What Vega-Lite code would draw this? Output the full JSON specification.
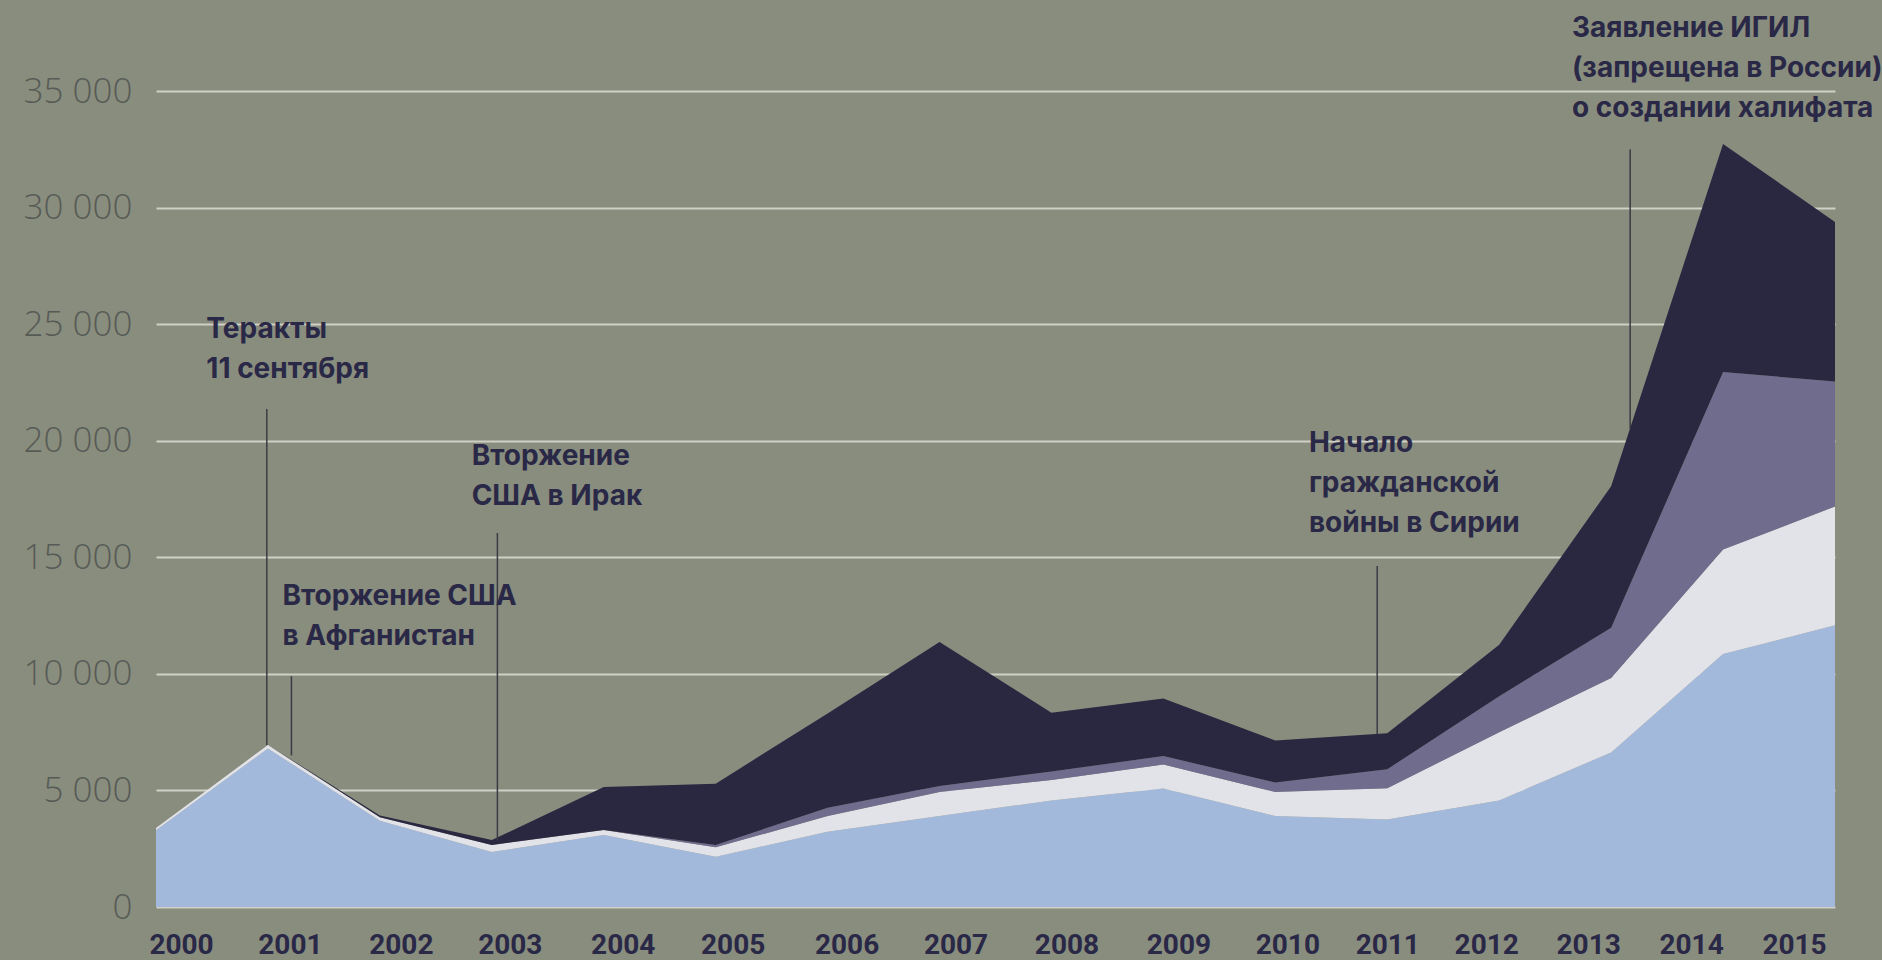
{
  "$schema": "https://vega.github.io/schema/vega-lite/v6.json",
  "autosize": {"type": "none"},
  "width": 1679,
  "height": 816,
  "padding": {"left": 156, "top": 91, "right": 47, "bottom": 53},
  "background": "#898d7e",
  "config": {"view": {"stroke": null}},
  "datasets": {
    "areas": [
      {"year": 2000, "series": "s1", "deaths": 3290}, {"year": 2000, "series": "s2", "deaths": 100}, {"year": 2000, "series": "s3", "deaths": 0}, {"year": 2000, "series": "s4", "deaths": 0},
      {"year": 2001, "series": "s1", "deaths": 6800}, {"year": 2001, "series": "s2", "deaths": 150}, {"year": 2001, "series": "s3", "deaths": 0}, {"year": 2001, "series": "s4", "deaths": 0},
      {"year": 2002, "series": "s1", "deaths": 3700}, {"year": 2002, "series": "s2", "deaths": 150}, {"year": 2002, "series": "s3", "deaths": 0}, {"year": 2002, "series": "s4", "deaths": 80},
      {"year": 2003, "series": "s1", "deaths": 2360}, {"year": 2003, "series": "s2", "deaths": 300}, {"year": 2003, "series": "s3", "deaths": 0}, {"year": 2003, "series": "s4", "deaths": 210},
      {"year": 2004, "series": "s1", "deaths": 3090}, {"year": 2004, "series": "s2", "deaths": 210}, {"year": 2004, "series": "s3", "deaths": 0}, {"year": 2004, "series": "s4", "deaths": 1850},
      {"year": 2005, "series": "s1", "deaths": 2150}, {"year": 2005, "series": "s2", "deaths": 410}, {"year": 2005, "series": "s3", "deaths": 100}, {"year": 2005, "series": "s4", "deaths": 2630},
      {"year": 2006, "series": "s1", "deaths": 3230}, {"year": 2006, "series": "s2", "deaths": 670}, {"year": 2006, "series": "s3", "deaths": 360}, {"year": 2006, "series": "s4", "deaths": 4040},
      {"year": 2007, "series": "s1", "deaths": 3900}, {"year": 2007, "series": "s2", "deaths": 1030}, {"year": 2007, "series": "s3", "deaths": 260}, {"year": 2007, "series": "s4", "deaths": 6180},
      {"year": 2008, "series": "s1", "deaths": 4570}, {"year": 2008, "series": "s2", "deaths": 880}, {"year": 2008, "series": "s3", "deaths": 360}, {"year": 2008, "series": "s4", "deaths": 2520},
      {"year": 2009, "series": "s1", "deaths": 5085}, {"year": 2009, "series": "s2", "deaths": 1030}, {"year": 2009, "series": "s3", "deaths": 360}, {"year": 2009, "series": "s4", "deaths": 2470},
      {"year": 2010, "series": "s1", "deaths": 3900}, {"year": 2010, "series": "s2", "deaths": 1030}, {"year": 2010, "series": "s3", "deaths": 410}, {"year": 2010, "series": "s4", "deaths": 1800},
      {"year": 2011, "series": "s1", "deaths": 3750}, {"year": 2011, "series": "s2", "deaths": 1340}, {"year": 2011, "series": "s3", "deaths": 820}, {"year": 2011, "series": "s4", "deaths": 1540},
      {"year": 2012, "series": "s1", "deaths": 4570}, {"year": 2012, "series": "s2", "deaths": 2930}, {"year": 2012, "series": "s3", "deaths": 1540}, {"year": 2012, "series": "s4", "deaths": 2210},
      {"year": 2013, "series": "s1", "deaths": 6630}, {"year": 2013, "series": "s2", "deaths": 3190}, {"year": 2013, "series": "s3", "deaths": 2160}, {"year": 2013, "series": "s4", "deaths": 6070},
      {"year": 2014, "series": "s1", "deaths": 10850}, {"year": 2014, "series": "s2", "deaths": 4480}, {"year": 2014, "series": "s3", "deaths": 7620}, {"year": 2014, "series": "s4", "deaths": 9780},
      {"year": 2015, "series": "s1", "deaths": 12085}, {"year": 2015, "series": "s2", "deaths": 5095}, {"year": 2015, "series": "s3", "deaths": 5355}, {"year": 2015, "series": "s4", "deaths": 6850}
    ],
    "events": [
      {"year": 2000.99, "top": 21360, "bottom": 6950},
      {"year": 2001.21, "top": 9900, "bottom": 6500},
      {"year": 2003.05, "top": 16040, "bottom": 2850},
      {"year": 2010.91, "top": 14630, "bottom": 7420},
      {"year": 2013.17, "top": 32500, "bottom": 20500}
    ],
    "notes": [
      {"year": 2000.45, "value": 24406, "label": "Теракты\n11 сентября"},
      {"year": 2001.13, "value": 12953, "label": "Вторжение США\nв Афганистан"},
      {"year": 2002.82, "value": 18958, "label": "Вторжение\nСША в Ирак"},
      {"year": 2010.30, "value": 19516, "label": "Начало\nгражданской\nвойны в Сирии"},
      {"year": 2012.65, "value": 37316, "label": "Заявление ИГИЛ\n(запрещена в России)\nо создании халифата"}
    ]
  },
  "layer": [
    {
      "data": {"name": "areas"},
      "mark": {"type": "area", "interpolate": "linear"},
      "encoding": {
        "x": {
          "field": "year", "type": "quantitative",
          "scale": {"domain": [2000, 2015], "nice": false, "zero": false},
          "axis": {
            "title": null, "grid": false, "domain": false, "ticks": false,
            "values": [2000, 2001, 2002, 2003, 2004, 2005, 2006, 2007, 2008, 2009, 2010, 2011, 2012, 2013, 2014, 2015],
            "format": "d",
            "labelFont": "Roboto", "labelFontWeight": "bold", "labelFontSize": 28,
            "labelColor": "#2a2847", "labelPadding": 24, "labelFlush": false, "labelOverlap": false,
            "labelOffset": {
              "condition": [
                {"test": "datum.value == 2000", "value": 25},
                {"test": "datum.value == 2001", "value": 22},
                {"test": "datum.value == 2002", "value": 21},
                {"test": "datum.value == 2003", "value": 18},
                {"test": "datum.value == 2004", "value": 19},
                {"test": "datum.value == 2005", "value": 17},
                {"test": "datum.value == 2006", "value": 19},
                {"test": "datum.value == 2007", "value": 16},
                {"test": "datum.value == 2008", "value": 15},
                {"test": "datum.value == 2009", "value": 15},
                {"test": "datum.value == 2010", "value": 12},
                {"test": "datum.value == 2011", "value": 0},
                {"test": "datum.value == 2012", "value": -13},
                {"test": "datum.value == 2013", "value": -23},
                {"test": "datum.value == 2014", "value": -32}
              ],
              "value": -41
            }
          }
        },
        "y": {
          "field": "deaths", "type": "quantitative", "stack": "zero",
          "scale": {"domain": [0, 35000], "nice": false},
          "axis": {
            "title": null, "domain": false, "ticks": false,
            "values": [0, 5000, 10000, 15000, 20000, 25000, 30000, 35000],
            "labelExpr": "replace(format(datum.value, ','), ',', ' ')",
            "labelFont": "Open Sans", "labelFontWeight": 300, "labelFontSize": 35,
            "labelColor": "#575b56", "labelPadding": 24,
            "gridColor": "#dcddd4", "gridWidth": 2, "gridOpacity": 0.85
          }
        },
        "color": {
          "field": "series", "type": "nominal",
          "scale": {"domain": ["s1", "s2", "s3", "s4"], "range": ["#a3b9dc", "#e2e3e8", "#706c8d", "#2a2741"]},
          "legend": null
        },
        "order": {"field": "series", "sort": "ascending"}
      }
    },
    {
      "data": {"name": "events"},
      "mark": {"type": "rule", "color": "#3b3b45", "strokeWidth": 1.5},
      "encoding": {
        "x": {"field": "year", "type": "quantitative"},
        "y": {"field": "top", "type": "quantitative"},
        "y2": {"field": "bottom"}
      }
    },
    {
      "data": {"name": "notes"},
      "mark": {"type": "text", "align": "left", "baseline": "alphabetic", "lineBreak": "\n", "lineHeight": 40, "font": "Inter", "fontWeight": "bold", "fontSize": 28, "color": "#2a2847"},
      "encoding": {
        "x": {"field": "year", "type": "quantitative"},
        "y": {"field": "value", "type": "quantitative"},
        "text": {"field": "label"}
      }
    }
  ]
}
